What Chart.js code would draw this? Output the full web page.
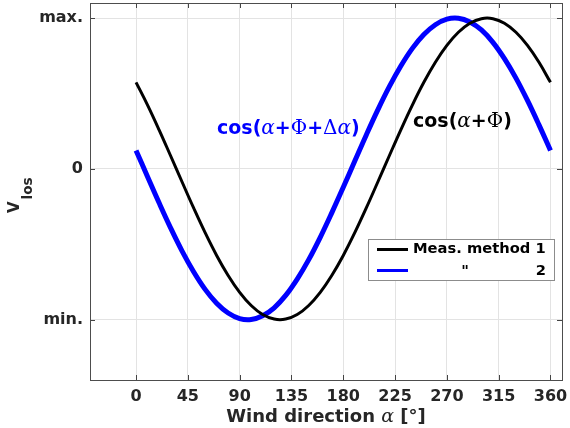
<!DOCTYPE html>
<html><head><meta charset="utf-8">
<script src="https://cdn.jsdelivr.net/npm/chart.js@4"></script>
<style>html,body{margin:0;padding:0;background:#fff}#c{display:block}</style>
</head><body>
<canvas id="c" width="570" height="428"></canvas>
<script>
const angles = [0,10,20,30,40,50,60,70,80,90,100,110,120,130,140,150,160,170,180,190,200,210,220,230,240,250,260,270,280,290,300,310,320,330,340,350,360];
const method1 = [0.574,0.423,0.259,0.087,-0.087,-0.259,-0.423,-0.574,-0.707,-0.819,-0.906,-0.966,-0.996,-0.996,-0.966,-0.906,-0.819,-0.707,-0.574,-0.423,-0.259,-0.087,0.087,0.259,0.423,0.574,0.707,0.819,0.906,0.966,0.996,0.996,0.966,0.906,0.819,0.707,0.574];
const method2 = [0.122,-0.052,-0.225,-0.391,-0.545,-0.682,-0.799,-0.891,-0.956,-0.993,-0.999,-0.974,-0.921,-0.839,-0.731,-0.602,-0.454,-0.292,-0.122,0.052,0.225,0.391,0.545,0.682,0.799,0.891,0.956,0.993,0.999,0.974,0.921,0.839,0.731,0.602,0.454,0.292,0.122];
const xTicks = [0,45,90,135,180,225,270,315,360];
const yTicks = [-1,0,1];
const yTickLabels = {"-1":"min.","0":"0","1":"max."};
const seriesNames = ["Meas. method 1", "2"];

const pts = (ys) => angles.map((a,i)=>({x:a,y:ys[i]}));
const TXT = '#262626';

function drawMixed(ctx, parts, x, y, color){
  ctx.save();
  ctx.fillStyle = color; ctx.textBaseline='alphabetic'; ctx.textAlign='left';
  let cx = x;
  for (const [t,f] of parts){ ctx.font=f; ctx.fillText(t,cx,y); cx += ctx.measureText(t).width; }
  ctx.restore();
  return cx - x;
}
function widthMixed(ctx, parts){
  let w=0; ctx.save();
  for (const [t,f] of parts){ ctx.font=f; w+=ctx.measureText(t).width; }
  ctx.restore(); return w;
}

const deco = {
  id:'deco',
  afterDraw(chart){
    const ctx = chart.ctx, a = chart.chartArea, xs = chart.scales.x, ys = chart.scales.y;
    ctx.save();
    ctx.strokeStyle='#444'; ctx.lineWidth=1;
    ctx.beginPath();
    for (const v of xTicks){ const px=Math.round(xs.getPixelForValue(v))+0.5;
      ctx.moveTo(px,a.bottom); ctx.lineTo(px,a.bottom-5);
      ctx.moveTo(px,a.top); ctx.lineTo(px,a.top+5); }
    for (const v of yTicks){ const py=Math.round(ys.getPixelForValue(v))+0.5;
      ctx.moveTo(a.left,py); ctx.lineTo(a.left+5,py);
      ctx.moveTo(a.right,py); ctx.lineTo(a.right-5,py); }
    ctx.stroke();
    ctx.strokeStyle='#4d4d4d'; ctx.lineWidth=1;
    ctx.strokeRect(Math.round(a.left)+0.5, Math.round(a.top)+0.5, Math.round(a.right-a.left), Math.round(a.bottom-a.top));
    // legend
    const lx=368.5, ly=239.5, lw=186, lh=41;
    ctx.fillStyle='#fff'; ctx.fillRect(lx,ly,lw,lh);
    ctx.strokeStyle='#8c8c8c'; ctx.strokeRect(lx,ly,lw,lh);
    ctx.lineWidth=3; ctx.strokeStyle='#000';
    ctx.beginPath(); ctx.moveTo(377,249.5); ctx.lineTo(408,249.5); ctx.stroke();
    ctx.strokeStyle='#0000ff';
    ctx.beginPath(); ctx.moveTo(377,270.5); ctx.lineTo(408,270.5); ctx.stroke();
    ctx.fillStyle='#000'; ctx.font='bold 14.7px "DejaVu Sans"'; ctx.textBaseline='middle';
    ctx.textAlign='left'; ctx.fillText(seriesNames[0], 413, 249);
    ctx.textAlign='center'; ctx.fillText('"', 465, 271);
    ctx.textAlign='right'; ctx.fillText(seriesNames[1], 546, 271);
    // annotations
    const S='bold 19px "DejaVu Sans"', M='italic 20px "DejaVu Serif"', U='20px "DejaVu Serif"';
    drawMixed(ctx, [['cos(',S],['α',M],['+',S],['Φ',U],['+',S],['Δ',U],['α',M],[')',S]], 217, 134, '#0000ff');
    drawMixed(ctx, [['cos(',S],['α',M],['+',S],['Φ',U],[')',S]], 413, 127, '#000');
    // x title
    const XS='bold 18px "DejaVu Sans"', XM='italic 19px "DejaVu Serif"';
    const xt=[['Wind direction ',XS],['α',XM],[' [°]',XS]];
    const w=widthMixed(ctx,xt);
    drawMixed(ctx, xt, (a.left+a.right)/2 - w/2, 422, TXT);
    // y title
    ctx.save(); ctx.translate(19, 213); ctx.rotate(-Math.PI/2);
    ctx.fillStyle=TXT; ctx.textAlign='left'; ctx.textBaseline='alphabetic';
    ctx.font='bold 15px "DejaVu Sans"'; ctx.fillText('V',0,0);
    const vw=ctx.measureText('V').width;
    ctx.font='bold 13.5px "DejaVu Sans"'; ctx.fillText('los',vw+2,13);
    ctx.restore();
    ctx.restore();
  }
};

new Chart(document.getElementById('c'), {
  type:'line',
  data:{datasets:[
    {label:seriesNames[0], data:pts(method1), borderColor:'#000', borderWidth:3, pointRadius:0, tension:0.4, fill:false},
    {label:seriesNames[1], data:pts(method2), borderColor:'#0000ff', borderWidth:5, pointRadius:0, tension:0.4, fill:false}
  ]},
  options:{
    responsive:false, animation:false, devicePixelRatio:1,
    layout:{padding:{top:3,right:8,left:0,bottom:0}},
    plugins:{legend:{display:false}, tooltip:{enabled:false}},
    scales:{
      x:{type:'linear', min:-40, max:370,
        afterBuildTicks(s){ s.ticks = xTicks.map(v=>({value:v})); },
        afterFit(s){ s.height = 48; s.paddingLeft = 0; s.paddingRight = 0; },
        grid:{color:'#e3e3e3', drawTicks:false, lineWidth:1},
        border:{display:false},
        ticks:{font:{family:'DejaVu Sans',size:16,weight:'bold'}, color:TXT, padding:7, maxRotation:0, autoSkip:false, callback:(v)=>String(v)}
      },
      y:{type:'linear', min:-1.4, max:1.1,
        afterBuildTicks(s){ s.ticks = yTicks.map(v=>({value:v})); },
        afterFit(s){ s.width = 90; s.paddingTop = 0; s.paddingBottom = 0; },
        grid:{color:'#e3e3e3', drawTicks:false, lineWidth:1},
        border:{display:false},
        ticks:{font:{family:'DejaVu Sans',size:16,weight:'bold'}, color:TXT, padding:7, autoSkip:false, callback:(v)=>yTickLabels[String(v)]}
      }
    }
  },
  plugins:[deco]
});
</script>
</body></html>
